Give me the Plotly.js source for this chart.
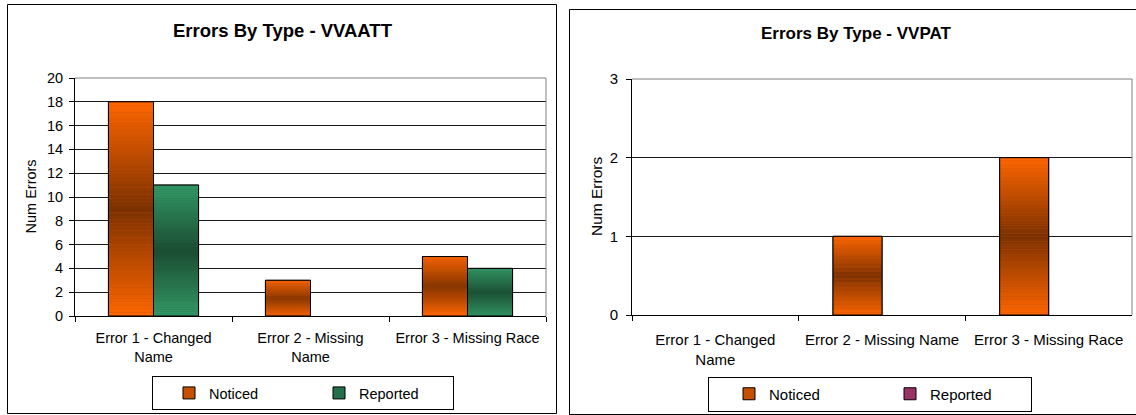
<!DOCTYPE html>
<html><head><meta charset="utf-8">
<script src="https://cdn.plot.ly/plotly-3.0.1.min.js"></script>
<style>html,body{margin:0;padding:0;background:#fff}#chart{width:1136px;height:415px}</style>
</head><body><div id="chart"></div>
<script>
// ---- data ----
const categories = ["Error 1 - Changed Name", "Error 2 - Missing Name", "Error 3 - Missing Race"];
const vvaattTickLabels = ["Error 1 - Changed<br>Name", "Error 2 - Missing<br>Name", "Error 3 - Missing Race"];
const vvpatTickLabels = ["Error 1 - Changed<br>Name", "Error 2 - Missing Name", "Error 3 - Missing Race"];
const seriesNames = ["Noticed", "Reported"];
const vvaattNoticed = [18, 3, 5];
const vvaattReported = [11, 0, 4];
const vvpatNoticed = [0, 1, 2];
const vvpatReported = [0, 0, 0];
const vvaattTitle = "Errors By Type - VVAATT";
const vvpatTitle = "Errors By Type - VVPAT";
const yTitle = "Num Errors";

// ---- styling helpers ----
const W = 1136, H = 415;
const px = x => x / W;
const py = y => 1 - y / H;
const FONT = "Liberation Sans, Arial, sans-serif";
const N = 60;

function hex2rgb(h){return [1,3,5].map(i=>parseInt(h.substr(i,2),16));}
function mix(a,b,t){const A=hex2rgb(a),B=hex2rgb(b);return 'rgb('+A.map((v,i)=>Math.round(v+(B[i]-v)*t)).join(',')+')';}
const nz = v => v.map(d => d === 0 ? null : d);

const styles = {
  Noticed: {edge:'#FF6600', center:'#7A3000', legend:'#C45000'},
  ReportedG: {edge:'#339966', center:'#1A4A30', legend:'#24704A'},
  ReportedP: {edge:'#993366', center:'#4D1A33', legend:'#993366'}
};

function panelTraces(xa, ya, values, names, sty, legendId, width){
  const traces = [];
  const offs = [-width, 0];
  values.forEach((v,s)=>{
    traces.push({type:'bar', x:categories, y:nz(v), xaxis:xa, yaxis:ya, name:names[s],
      offset:offs[s], width:width, legend:legendId, hoverinfo:'skip',
      marker:{color:sty[s].legend, line:{color:'#000', width:1}}});
  });
  values.forEach((v,s)=>{
    for(let k=0;k<N;k++){
      const t=(k+0.5)/N;
      const c = mix(sty[s].edge, sty[s].center, 1-Math.abs(2*t-1));
      traces.push({type:'bar', x:categories, y:nz(v.map(d=>d/N)), base:v.map(d=>d*k/N),
        xaxis:xa, yaxis:ya, showlegend:false, offset:offs[s], width:width, hoverinfo:'skip',
        marker:{color:c, line:{width:0}}});
    }
  });
  values.forEach((v,s)=>{
    traces.push({type:'bar', x:categories, y:nz(v), xaxis:xa, yaxis:ya, showlegend:false,
      offset:offs[s], width:width, hoverinfo:'skip',
      marker:{color:'rgba(0,0,0,0)', line:{color:'#000', width:1}}});
  });
  return traces;
}

const data = [].concat(
  panelTraces('x','y',[vvaattNoticed, vvaattReported], seriesNames, [styles.Noticed, styles.ReportedG], 'legend', 0.287),
  panelTraces('x2','y2',[vvpatNoticed, vvpatReported], seriesNames, [styles.Noticed, styles.ReportedP], 'legend2', 0.294)
);

const xCommon = {type:'category', tickson:'boundaries', ticks:'outside', ticklen:5, tickcolor:'#000',
  showline:true, linecolor:'#000', linewidth:1, showgrid:false, zeroline:false, fixedrange:true,
  ticklabelstandoff:9, automargin:false,
  tickfont:{family:FONT, size:14.5, color:'#000'}};
const yCommon = {ticks:'outside', ticklen:5, tickcolor:'#000', showline:true, linecolor:'#000', linewidth:1,
  showgrid:true, gridcolor:'#1a1a1a', gridwidth:1, zeroline:false, fixedrange:true,
  ticklabelstandoff:3, automargin:false,
  tickfont:{family:FONT, size:14.5, color:'#000'}};

const layout = {
  width:W, height:H, margin:{l:0,r:0,t:0,b:0}, paper_bgcolor:'#fff', plot_bgcolor:'rgba(0,0,0,0)',
  barmode:'overlay', font:{family:FONT, color:'#000'},
  xaxis: Object.assign({}, xCommon, {domain:[px(75), px(546)], anchor:'y', tickvals:categories, ticktext:vvaattTickLabels}),
  yaxis: Object.assign({}, yCommon, {domain:[py(316), py(78)], anchor:'x', range:[0,20], dtick:2, tick0:0}),
  xaxis2: Object.assign({}, xCommon, {domain:[px(632), px(1132)], anchor:'y2', tickvals:categories, ticktext:vvpatTickLabels, ticklabelstandoff:11, tickfont:{family:FONT,size:15,color:'#000'}}),
  yaxis2: Object.assign({}, yCommon, {domain:[py(315), py(79)], anchor:'x2', range:[0,3], dtick:1, tick0:0, ticklabelstandoff:5, tickfont:{family:FONT,size:15,color:'#000'}}),
  legend: {orientation:'h', x:px(152), y:py(410), xanchor:'left', yanchor:'bottom', bordercolor:'#000', borderwidth:1,
    bgcolor:'#fff', font:{family:FONT, size:14.5, color:'#000'}, entrywidth:89, indentation:16, traceorder:'normal'},
  legend2: {orientation:'h', x:px(708), y:py(411.5), xanchor:'left', yanchor:'bottom', bordercolor:'#000', borderwidth:1,
    bgcolor:'#fff', font:{family:FONT, size:15, color:'#000'}, entrywidth:96, indentation:20, traceorder:'normal'},
  annotations: [
    {text:'<b>'+vvaattTitle+'</b>', xref:'paper', yref:'paper', x:px(283), y:py(30), xanchor:'center', yanchor:'middle', showarrow:false, font:{family:FONT, size:18.5, color:'#000'}},
    {text:'<b>'+vvpatTitle+'</b>', xref:'paper', yref:'paper', x:px(856), y:py(34), xanchor:'center', yanchor:'middle', showarrow:false, font:{family:FONT, size:17, color:'#000'}},
    {text:yTitle, xref:'paper', yref:'paper', x:px(30.5), y:py(197), xanchor:'center', yanchor:'middle', textangle:-90, showarrow:false, font:{family:FONT, size:14.5, color:'#000'}},
    {text:yTitle, xref:'paper', yref:'paper', x:px(596), y:py(197), xanchor:'center', yanchor:'middle', textangle:-90, showarrow:false, font:{family:FONT, size:15.5, color:'#000'}}
  ],
  shapes: [
    {type:'rect', xref:'paper', yref:'paper', x0:px(7.5), x1:px(556.5), y0:py(413.5), y1:py(4.5), line:{color:'#000', width:1}},
    {type:'rect', xref:'paper', yref:'paper', x0:px(569.5), x1:px(1142), y0:py(414.5), y1:py(9.5), line:{color:'#000', width:1}},
    {type:'line', xref:'x domain', yref:'y domain', x0:0, x1:1, y0:1, y1:1, line:{color:'#808080', width:1}, layer:'above'},
    {type:'line', xref:'x domain', yref:'y domain', x0:1, x1:1, y0:0, y1:1, line:{color:'#808080', width:1}, layer:'above'},
    {type:'line', xref:'x2 domain', yref:'y2 domain', x0:0, x1:1, y0:1, y1:1, line:{color:'#808080', width:1}, layer:'above'},
    {type:'line', xref:'x2 domain', yref:'y2 domain', x0:1, x1:1, y0:0, y1:1, line:{color:'#808080', width:1}, layer:'above'}
  ]
};

Plotly.newPlot('chart', data, layout, {staticPlot:true, displayModeBar:false});
</script>
</body></html>
